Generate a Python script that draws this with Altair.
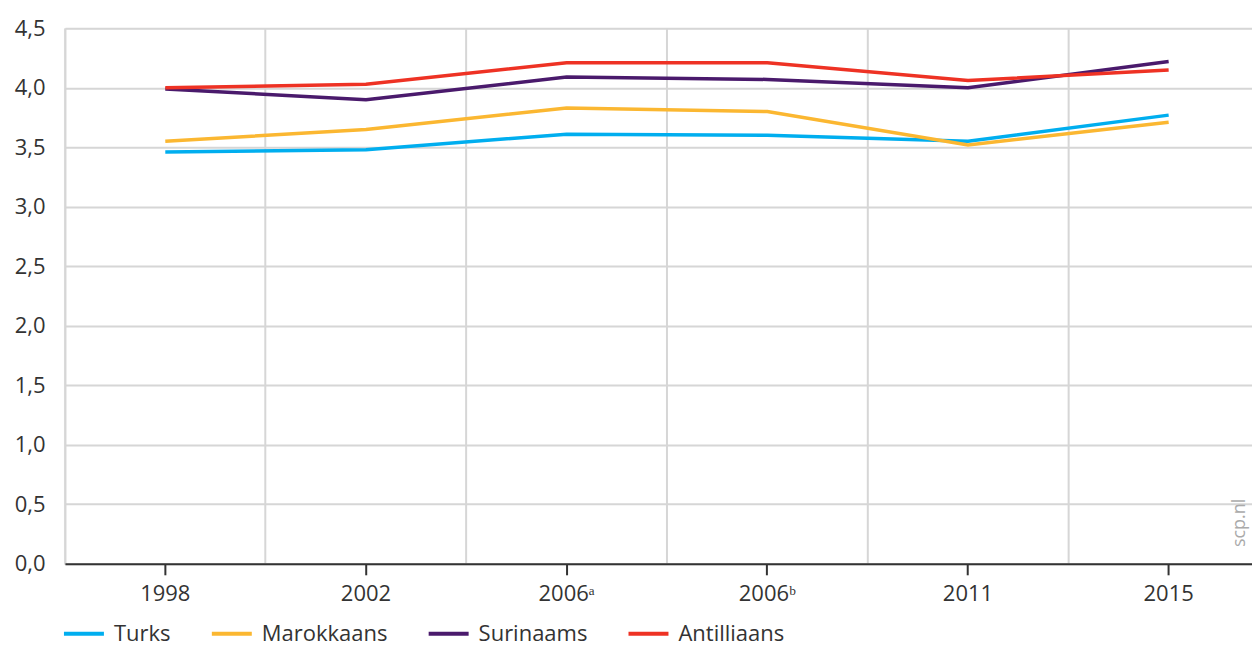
import altair as alt
import pandas as pd

years = ["1998", "2002", "2006ᵃ", "2006ᵇ", "2011", "2015"]
groups = ["Turks", "Marokkaans", "Surinaams", "Antilliaans"]
turks = [3.46, 3.48, 3.61, 3.60, 3.55, 3.77]
marokkaans = [3.55, 3.65, 3.83, 3.80, 3.52, 3.71]
surinaams = [3.99, 3.90, 4.09, 4.07, 4.00, 4.22]
antilliaans = [4.00, 4.03, 4.21, 4.21, 4.06, 4.15]
colors = ["#00aeef", "#fbb731", "#4a1a6c", "#ee3224"]
y_ticks = [0, 0.5, 1, 1.5, 2, 2.5, 3, 3.5, 4, 4.5]

series = {"Turks": turks, "Marokkaans": marokkaans, "Surinaams": surinaams, "Antilliaans": antilliaans}
rows = []
for g in groups:
    for yr, v in zip(years, series[g]):
        rows.append({"jaar": yr, "groep": g, "waarde": v})
df = pd.DataFrame(rows)

FONT = "Open Sans"
TXT = "#333333"
GRID = "#d6d6d6"

xscale = alt.Scale(type="band", domain=years, range=[1, 1206], paddingInner=0, paddingOuter=0)
yscale = alt.Scale(domain=[0, 4.5], nice=False, zero=True)

y_enc = alt.Y(
    "waarde:Q",
    scale=yscale,
    title=None,
    axis=alt.Axis(
        values=y_ticks,
        labelExpr="replace(format(datum.value, '.1f'), '.', ',')",
        grid=True,
        gridColor=GRID,
        gridWidth=2,
        ticks=False,
        domain=False,
        labelFontSize=22,
        labelColor=TXT,
        labelFont=FONT,
        labelPadding=19,
        labelAlign="right",
    ),
)

base = alt.Chart(df)

grid_layer = base.mark_line(opacity=0).encode(
    x=alt.X(
        "jaar:N",
        sort=years,
        scale=xscale,
        title=None,
        axis=alt.Axis(
            orient="bottom",
            bandPosition=0,
            grid=True,
            gridColor=GRID,
            gridWidth=2,
            labels=False,
            ticks=False,
            domain=False,
        ),
    ),
    y=y_enc,
)

lines = base.mark_line(strokeWidth=3.5).encode(
    x=alt.X(
        "jaar:N",
        sort=years,
        scale=xscale,
        bandPosition=0.5,
        title=None,
        axis=alt.Axis(
            orient="bottom",
            bandPosition=0.5,
            grid=False,
            domain=True,
            domainColor=TXT,
            domainWidth=2,
            ticks=True,
            tickColor=TXT,
            tickWidth=2,
            tickSize=11,
            labelFontSize=22,
            labelColor=TXT,
            labelFont=FONT,
            labelPadding=9,
            labelAngle=0,
        ),
    ),
    y=y_enc,
    color=alt.Color(
        "groep:N",
        sort=groups,
        scale=alt.Scale(domain=groups, range=colors),
        legend=alt.Legend(
            title=None,
            orient="none",
            direction="horizontal",
            legendX=-2,
            legendY=584,
            symbolType="stroke",
            symbolSize=1600,
            symbolStrokeWidth=4,
            labelFontSize=22,
            labelFont=FONT,
            labelColor=TXT,
            labelOffset=8,
            columnPadding=33,
            labelLimit=400,
        ),
    ),
)

note = alt.Chart(pd.DataFrame({"t": ["scp.nl"]})).mark_text(
    angle=270, fontSize=18, color="#aaaaaa", font=FONT, align="center", baseline="middle"
).encode(text="t:N", x=alt.value(1177), y=alt.value(495))

chart = (
    alt.layer(grid_layer, lines, note)
    .resolve_axis(x="independent")
    .properties(
        width=1189,
        height=536,
        autosize=alt.AutoSizeParams(type="none"),
        padding={"left": 56, "top": 20, "right": 0, "bottom": 83},
    )
    .configure_view(stroke=None)
    .configure(font=FONT)
)

chart.save("out.html", embed_options={"renderer": "svg", "actions": False})
